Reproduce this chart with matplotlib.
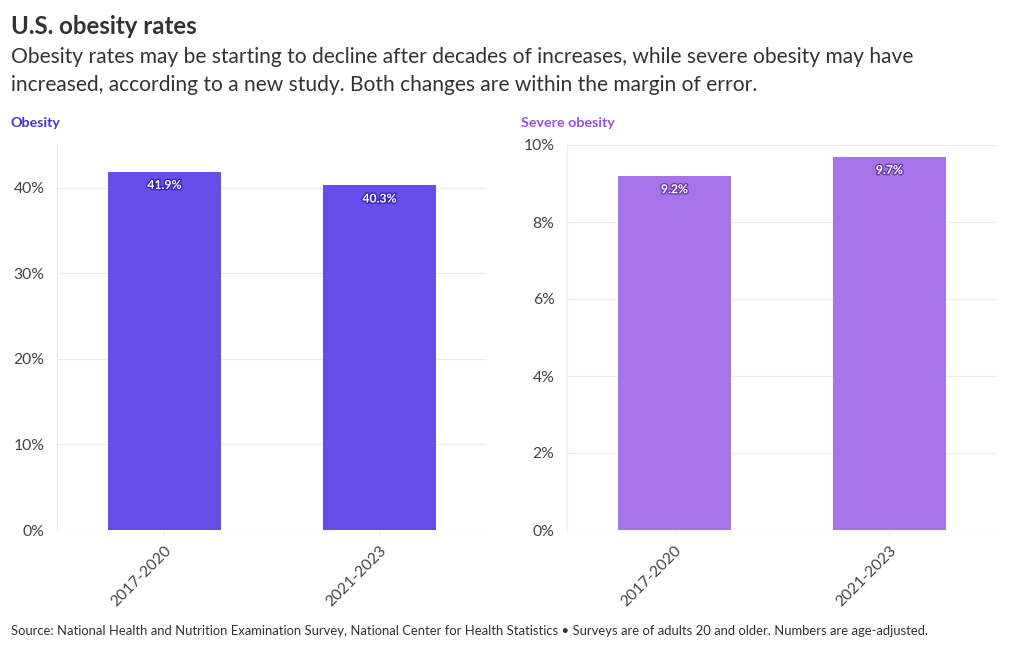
import matplotlib.pyplot as plt
import matplotlib.patheffects as pe

periods = ["2017-2020", "2021-2023"]
obesity = [41.9, 40.3]
severe = [9.2, 9.7]

obesity_ticks = [0, 10, 20, 30, 40]
severe_ticks = [0, 2, 4, 6, 8, 10]

plt.rcParams["font.family"] = ["Lato", "DejaVu Sans"]

W, H = 1020, 650
fig = plt.figure(figsize=(W / 100, H / 100), dpi=100)


def px_axes(x0, x1, ytop, ybot):
    return fig.add_axes([x0 / W, (H - ybot) / H, (x1 - x0) / W, (ybot - ytop) / H])


def draw_panel(ax, values, ticks, ymax, bar_color, edge_dark):
    x = range(len(values))
    ax.bar(x, values, width=0.525, color=bar_color, zorder=2)
    ax.set_xlim(-0.5, 1.5)
    ax.set_ylim(0, ymax)
    ax.set_yticks(ticks)
    ax.set_yticklabels([f"{t}%" for t in ticks])
    ax.set_xticks(list(x))
    ax.set_xticklabels(periods, rotation=45, ha="right", rotation_mode="anchor")
    ax.tick_params(axis="both", labelsize=11.3, labelcolor="#444444",
                   length=4, color="#eeeeee")
    ax.tick_params(axis="y", length=0, pad=9)
    ax.tick_params(axis="x", pad=6)
    ax.grid(axis="y", color="#ebebeb", linewidth=0.8, zorder=0)
    for s in ["top", "right", "bottom"]:
        ax.spines[s].set_visible(False)
    ax.spines["left"].set_color("#ebebeb")
    ax.spines["left"].set_linewidth(0.8)
    for i, v in enumerate(values):
        ax.annotate(f"{v}%", (i, v), xytext=(0, -10), textcoords="offset points",
                    ha="center", va="center", fontsize=8.8, fontweight="bold",
                    color="white", zorder=3,
                    path_effects=[pe.withStroke(linewidth=2, foreground=edge_dark)])


ax1 = px_axes(57, 487, 145, 530)
draw_panel(ax1, obesity, obesity_ticks, 45, "#6450e8", "#3a23b8")

ax2 = px_axes(567, 997, 145, 530)
draw_panel(ax2, severe, severe_ticks, 10, "#a674e8", "#6a3cb0")

fig.text(11 / W, 1 - 27 / H, "U.S. obesity rates", fontsize=17.3, fontweight="bold",
         color="#333333", va="center", ha="left")
fig.text(11 / W, 1 - 57 / H,
         "Obesity rates may be starting to decline after decades of increases, while severe obesity may have",
         fontsize=15.1, color="#333333", va="center", ha="left")
fig.text(11 / W, 1 - 85 / H,
         "increased, according to a new study. Both changes are within the margin of error.",
         fontsize=15.1, color="#333333", va="center", ha="left")
fig.text(11 / W, 1 - 123 / H, "Obesity", fontsize=10.3, fontweight="bold",
         color="#4a2fd6", va="center", ha="left")
fig.text(521 / W, 1 - 123 / H, "Severe obesity", fontsize=10.3, fontweight="bold",
         color="#9a50e0", va="center", ha="left")
fig.text(11 / W, 1 - 631 / H,
         "Source: National Health and Nutrition Examination Survey, National Center for Health Statistics "
         "\u2022 Surveys are of adults 20 and older. Numbers are age-adjusted.",
         fontsize=9.4, color="#333333", va="center", ha="left")

fig.savefig("out.png", dpi=100)
